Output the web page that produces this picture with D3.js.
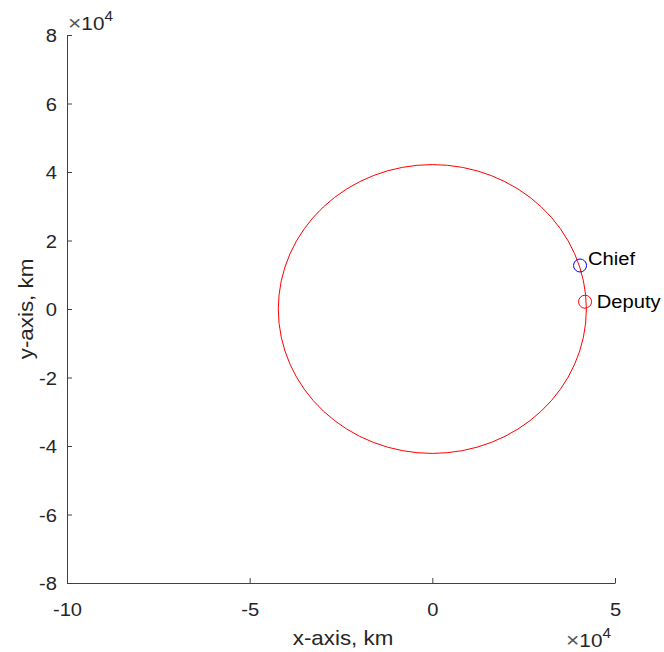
<!DOCTYPE html>
<html><head><meta charset="utf-8">
<script src="https://cdn.jsdelivr.net/npm/d3@7"></script>
<style>body{margin:0;background:#fff}svg{display:block}text{font-family:"Liberation Sans",Arial,sans-serif;fill:#262626}</style>
</head><body><div id="chart"></div>
<script>
const xTicks = [-10, -5, 0, 5];
const yTicks = [-8, -6, -4, -2, 0, 2, 4, 6, 8];
const orbitCenter = [0, 0];           // km
const orbitRadius = [42164];          // km
const markerNames = ["Chief", "Deputy"];
const markerX = [40430, 41800];       // km
const markerY = [12700, 2130];        // km
const labelX = [42600, 45000];        // km, text anchor (left, middle)
const labelY = [14800, 2130];         // km
const markerColors = ["#0000ff", "#ff0000"];

const W = 664, H = 652;
const SX = 1.09; // horizontal stretch of text in the reference
const svg = d3.select("#chart").append("svg").attr("width", W).attr("height", H);
const x = d3.scaleLinear().domain([-100000, 50000]).range([67, 615]);
const y = d3.scaleLinear().domain([-80000, 80000]).range([583, 35]);
const axisColor = "#404040";
const textColor = "#262626";

function stretchedText(parent, px, py, size, anchor) {
  return parent.append("text")
    .attr("transform", `translate(${px},${py}) scale(${SX},1)`)
    .attr("font-size", size).attr("text-anchor", anchor || "start");
}

// orbit
svg.append("ellipse")
  .attr("cx", x(orbitCenter[0])).attr("cy", y(orbitCenter[1]))
  .attr("rx", x(orbitCenter[0] + orbitRadius[0]) - x(orbitCenter[0]))
  .attr("ry", y(orbitCenter[1]) - y(orbitCenter[1] + orbitRadius[0]))
  .attr("fill", "none").attr("stroke", "#ff0000").attr("stroke-width", 1);

// markers
markerNames.forEach((n, i) => {
  svg.append("circle").attr("cx", x(markerX[i])).attr("cy", y(markerY[i])).attr("r", 6.5)
    .attr("fill", "none").attr("stroke", markerColors[i]).attr("stroke-width", 1);
  stretchedText(svg, x(labelX[i]), y(labelY[i]) + 6.6, 18.5).style("fill", "#000").text(n);
});

// axes
const fmt = v => String(Math.round(v / 1e4));
const xAxis = d3.axisBottom(x).tickValues(xTicks.map(v => v * 1e4)).tickFormat(fmt).tickSizeInner(-5).tickSizeOuter(0).tickPadding(0);
const gx = svg.append("g").attr("transform", `translate(0,${y(-80000)})`).call(xAxis);
const yAxis = d3.axisLeft(y).tickValues(yTicks.map(v => v * 1e4)).tickFormat(fmt).tickSizeInner(-5).tickSizeOuter(0).tickPadding(0);
const gy = svg.append("g").attr("transform", `translate(${x(-100000)},0)`).call(yAxis);
[gx, gy].forEach(g => {
  g.select(".domain").attr("stroke", axisColor);
  g.selectAll(".tick line").attr("stroke", axisColor);
});
gx.selectAll(".tick text").attr("x", null).attr("y", null).attr("dy", null)
  .attr("transform", `translate(0,33) scale(${SX},1)`)
  .attr("font-size", 18.5).attr("font-family", "Liberation Sans, Arial, sans-serif").style("fill", textColor);
gy.selectAll(".tick text").attr("x", null).attr("y", null).attr("dy", null)
  .attr("transform", `translate(-10,6.6) scale(${SX},1)`)
  .attr("font-size", 18.5).attr("font-family", "Liberation Sans, Arial, sans-serif").style("fill", textColor);

// axis labels
stretchedText(svg, (x(-100000) + x(50000)) / 2 + 2, 645, 20.5, "middle").style("fill", textColor).text("x-axis, km");
svg.append("text").attr("transform", `translate(33,${y(0)}) rotate(-90) scale(${SX},1)`).attr("text-anchor", "middle")
  .attr("font-size", 20.5).style("fill", textColor).text("y-axis, km");

// exponent labels
function expo(xp, yp) {
  const t = stretchedText(svg, xp, yp, 19).style("fill", textColor);
  t.append("tspan").attr("font-size", 21).style("fill", "#555").text("×");
  t.append("tspan").attr("font-size", 19).text("10");
  t.append("tspan").attr("dy", -9).attr("font-size", 14).text("4");
}
expo(68, 30);
expo(566, 647);
</script></body></html>
